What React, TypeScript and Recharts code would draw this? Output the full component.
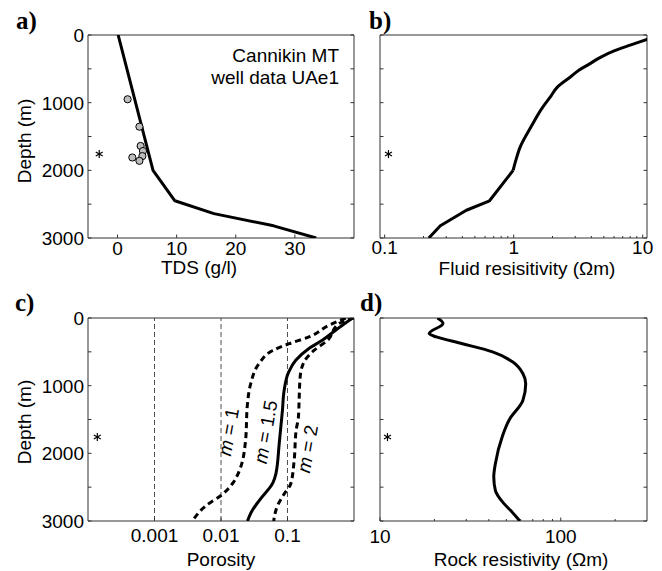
import { ScatterChart, Scatter, XAxis, YAxis, ReferenceLine } from "recharts";

const SANS = '"Liberation Sans", Arial, sans-serif';
const SERIF = '"Liberation Serif", "Times New Roman", serif';
const BOX = "#333";

// depth (m) on every y axis
const depthTicks = [0, 500, 1000, 1500, 2000, 2500, 3000];
const depthLabels = [0, 1000, 2000, 3000];

// a) TDS (g/l): [depth, value]
const tdsModel = [[0, 0.1], [2000, 6.0], [2450, 9.7], [2640, 16.3], [2820, 26.4], [3000, 33.6]];
const tdsWell = [[950, 1.7], [1355, 3.7], [1640, 3.9], [1715, 4.3], [1790, 4.2], [1810, 2.5], [1860, 3.7]];

// b) fluid resistivity (ohm m), smooth part above 2000 m, piecewise below
const fluidResUpper = [
  [0, 13.5], [65, 10.8], [150, 8.0], [235, 6.0], [330, 4.7], [430, 3.85], [520, 3.2], [620, 2.75],
  [770, 2.18], [900, 1.95], [1080, 1.66], [1360, 1.36], [1660, 1.12], [1850, 1.04], [2000, 0.99],
];
const fluidResLower = [[2000, 0.99], [2450, 0.65], [2590, 0.43], [2820, 0.27], [3000, 0.22]];

// c) porosity for three cementation exponents
const porM1 = [
  [0, 0.75], [108, 0.42], [280, 0.21], [380, 0.106], [480, 0.06], [680, 0.037], [970, 0.028],
  [1270, 0.025], [1810, 0.0234], [2250, 0.019], [2450, 0.0148], [2620, 0.0101], [2770, 0.006], [3000, 0.0037],
];
const porM15 = [
  [0, 0.95], [180, 0.53], [330, 0.333], [450, 0.21], [625, 0.133], [800, 0.104], [1070, 0.089],
  [1360, 0.084], [1860, 0.075], [2300, 0.067], [2440, 0.06], [2690, 0.038], [2870, 0.0285], [3000, 0.025],
];
const porM2 = [
  [0, 1.0], [85, 0.59], [330, 0.4], [480, 0.25], [650, 0.177], [870, 0.155], [1170, 0.15],
  [1460, 0.146], [1660, 0.135], [2100, 0.126], [2450, 0.112], [2600, 0.089], [2770, 0.071], [3000, 0.062],
];
const porGuides = [0.001, 0.01, 0.1];

// d) rock resistivity (ohm m)
const rockRes = [
  [0, 20.8], [80, 22.3], [230, 18.7], [280, 20.5], [380, 28.6], [500, 42], [650, 54.3], [820, 61.7],
  [970, 64], [1220, 61.7], [1500, 52], [1750, 47.5], [2150, 43.5], [2350, 42.6], [2550, 43.5],
  [2740, 48.4], [2870, 53.9], [3000, 59.4],
];

// shot depth marker in each panel: [depth, value]
const starA = [[1760, -3.1]];
const starB = [[1760, 0.107]];
const starC = [[1760, 0.000138]];
const starD = [[1760, 11.0]];

const toPts = (rows: number[][]) => rows.map(([depth, value]) => ({ depth, value }));

const noDot = () => <g />;

const Circle = (p: any) => (
  <circle cx={p.cx} cy={p.cy} r={3.6} fill="#bdbdbd" stroke="#000" strokeWidth={1} />
);

const Star = (p: any) => {
  const r = 4;
  return (
    <g stroke="#000" strokeWidth={1.2}>
      <line x1={p.cx} y1={p.cy - r} x2={p.cx} y2={p.cy + r} />
      <line x1={p.cx - r * 0.87} y1={p.cy - r * 0.5} x2={p.cx + r * 0.87} y2={p.cy + r * 0.5} />
      <line x1={p.cx - r * 0.87} y1={p.cy + r * 0.5} x2={p.cx + r * 0.87} y2={p.cy - r * 0.5} />
    </g>
  );
};

function xTick(side: "bottom" | "top", labels: number[], minor: number[], dy: number) {
  return (p: any) => {
    const v = p.payload.value;
    const len = minor.includes(v) ? 2 : 3.5;
    const dir = side === "bottom" ? -1 : 1;
    return (
      <g>
        <line x1={p.x} x2={p.x} y1={p.y} y2={p.y + dir * len} stroke={BOX} />
        {side === "bottom" && labels.includes(v) && (
          <text x={p.x} y={p.y + dy} textAnchor="middle" fontFamily={SANS} fontSize={19} fill="#000">
            {String(v)}
          </text>
        )}
      </g>
    );
  };
}

function yTick(side: "left" | "right", showLabels: boolean) {
  return (p: any) => {
    const v = p.payload.value;
    const dir = side === "left" ? 1 : -1;
    return (
      <g>
        <line x1={p.x} x2={p.x + dir * 3.5} y1={p.y} y2={p.y} stroke={BOX} />
        {side === "left" && showLabels && depthLabels.includes(v) && (
          <text x={p.x - 4} y={p.y} dy="0.36em" textAnchor="end" fontFamily={SANS} fontSize={19} fill="#000">
            {String(v)}
          </text>
        )}
      </g>
    );
  };
}

type PanelProps = {
  left: number;
  top: number;
  width: number;
  height: number;
  plot: [number, number, number, number]; // x0, x1, y0, y1 in page px
  xDomain: [number, number];
  log?: boolean;
  xTicks: number[];
  xLabels: number[];
  xMinor?: number[];
  labelDy: number;
  yLabels: boolean;
  series: React.ReactNode[];
};

function Panel({ left, top, width, height, plot, xDomain, log, xTicks, xLabels, xMinor = [], labelDy, yLabels, series }: PanelProps) {
  const [x0, x1, y0, y1] = plot;
  // axes take 1px each, outside the plot box
  const margin = { left: x0 - left - 1, right: left + width - x1 - 1, top: y0 - top - 1, bottom: top + height - y1 - 1 };
  const common = {
    type: "number" as const,
    domain: xDomain,
    scale: (log ? "log" : "linear") as any,
    allowDataOverflow: true,
    ticks: xTicks,
    interval: 0 as const,
    tickSize: 0,
    tickMargin: 0,
    height: 1,
    axisLine: { stroke: BOX },
  };
  const yCommon = {
    type: "number" as const,
    domain: [0, 3000] as [number, number],
    reversed: true,
    allowDataOverflow: true,
    ticks: depthTicks,
    interval: 0 as const,
    tickSize: 0,
    tickMargin: 0,
    width: 1,
    axisLine: { stroke: BOX },
  };
  return (
    <div style={{ position: "absolute", left, top, width, height }}>
      <ScatterChart width={width} height={height} margin={margin}>
        <XAxis xAxisId="b" orientation="bottom" dataKey="value" {...common} tick={xTick("bottom", xLabels, xMinor, labelDy)} />
        <XAxis xAxisId="t" orientation="top" {...common} tick={xTick("top", xLabels, xMinor, labelDy)} />
        <YAxis yAxisId="l" orientation="left" dataKey="depth" {...yCommon} tick={yTick("left", yLabels)} />
        <YAxis yAxisId="r" orientation="right" {...yCommon} tick={yTick("right", false)} />
        {series}
      </ScatterChart>
    </div>
  );
}

const line = (key: string, rows: number[][], dash?: string, smooth = true) => (
  <Scatter
    key={key}
    xAxisId="b"
    yAxisId="l"
    data={toPts(rows)}
    fill="none"
    shape={noDot}
    lineJointType={smooth ? "monotoneY" : "linear"}
    line={{ stroke: "#000", strokeWidth: 3, strokeDasharray: dash, strokeLinejoin: "round" }}
    isAnimationActive={false}
  />
);

const marks = (key: string, rows: number[][], shape: any) => (
  <Scatter key={key} xAxisId="b" yAxisId="l" data={toPts(rows)} shape={shape} isAnimationActive={false} />
);

const decadeMinor = (lo: number, hi: number) => {
  const out: number[] = [];
  for (let d = lo; d < hi; d *= 10) for (let k = 2; k <= 9; k++) out.push(+(k * d).toPrecision(3));
  return out;
};

export default function App() {
  const minorB = decadeMinor(0.1, 10);
  const minorD = decadeMinor(10, 100).concat([200, 300]);
  return (
    <div style={{ position: "absolute", left: 0, top: 0, width: 662, height: 571, background: "#fff" }}>
      <Panel
        left={0} top={0} width={362} height={290}
        plot={[88, 354, 35, 238]}
        xDomain={[-5, 40]}
        xTicks={[0, 10, 20, 30]}
        xLabels={[0, 10, 20, 30]}
        labelDy={17}
        yLabels
        series={[line("tds", tdsModel, undefined, false), marks("well", tdsWell, Circle), marks("sa", starA, Star)]}
      />
      <Panel
        left={362} top={0} width={300} height={290}
        plot={[380, 647, 35, 238]}
        xDomain={[0.092, 10.8]}
        log
        xTicks={[0.1, ...minorB.slice(0, 8), 1, ...minorB.slice(8), 10]}
        xLabels={[0.1, 1, 10]}
        xMinor={minorB}
        labelDy={16}
        yLabels={false}
        series={[line("fluidU", fluidResUpper), line("fluidL", fluidResLower, undefined, false), marks("sb", starB, Star)]}
      />
      <Panel
        left={0} top={290} width={362} height={281}
        plot={[88, 354, 318, 521]}
        xDomain={[0.0001, 1]}
        log
        xTicks={porGuides}
        xLabels={porGuides}
        labelDy={21}
        yLabels
        series={[
          ...porGuides.map((g) => (
            <ReferenceLine key={"g" + g} x={g} xAxisId="b" yAxisId="l" stroke="#222" strokeWidth={0.8} strokeDasharray="5 3" />
          )),
          line("m1", porM1, "6 4"),
          line("m15", porM15),
          line("m2", porM2, "6 4"),
          marks("sc", starC, Star),
        ]}
      />
      <Panel
        left={362} top={290} width={300} height={281}
        plot={[380, 647, 318, 521]}
        xDomain={[10, 300]}
        log
        xTicks={[10, ...minorD.slice(0, 8), 100, 200]}
        xLabels={[10, 100]}
        xMinor={minorD}
        labelDy={22}
        yLabels={false}
        series={[line("rock", rockRes), marks("sd", starD, Star)]}
      />
      <svg width={662} height={571} style={{ position: "absolute", left: 0, top: 0, pointerEvents: "none" }}>
        <g fontFamily={SERIF} fontWeight="bold" fontSize={25} fill="#000">
          <text x={16} y={29}>a)</text>
          <text x={369} y={29}>b)</text>
          <text x={15} y={311}>c)</text>
          <text x={360} y={311}>d)</text>
        </g>
        <g fontFamily={SANS} fontSize={19} fill="#000" textAnchor="middle">
          <text x={199} y={274}>TDS (g/l)</text>
          <text x={527} y={275}>Fluid resisitivity (Ωm)</text>
          <text x={221} y={566}>Porosity</text>
          <text x={521} y={566}>Rock resistivity (Ωm)</text>
          <text transform="translate(31,141) rotate(-90)">Depth (m)</text>
          <text transform="translate(31,422) rotate(-90)">Depth (m)</text>
        </g>
        <g fontFamily={SANS} fontSize={19} fill="#000" textAnchor="end">
          <text x={339} y={62}>Cannikin MT</text>
          <text x={339} y={84}>well data UAe1</text>
        </g>
        <g fontFamily={SANS} fontSize={19} fill="#000" textAnchor="middle">
          <text transform="translate(235,433) rotate(-80)">
            <tspan fontStyle="italic">m</tspan> = 1
          </text>
          <text transform="translate(272,433) rotate(-80)">
            <tspan fontStyle="italic">m</tspan> = 1.5
          </text>
          <text transform="translate(314,450) rotate(-80)">
            <tspan fontStyle="italic">m</tspan> = 2
          </text>
        </g>
      </svg>
    </div>
  );
}
